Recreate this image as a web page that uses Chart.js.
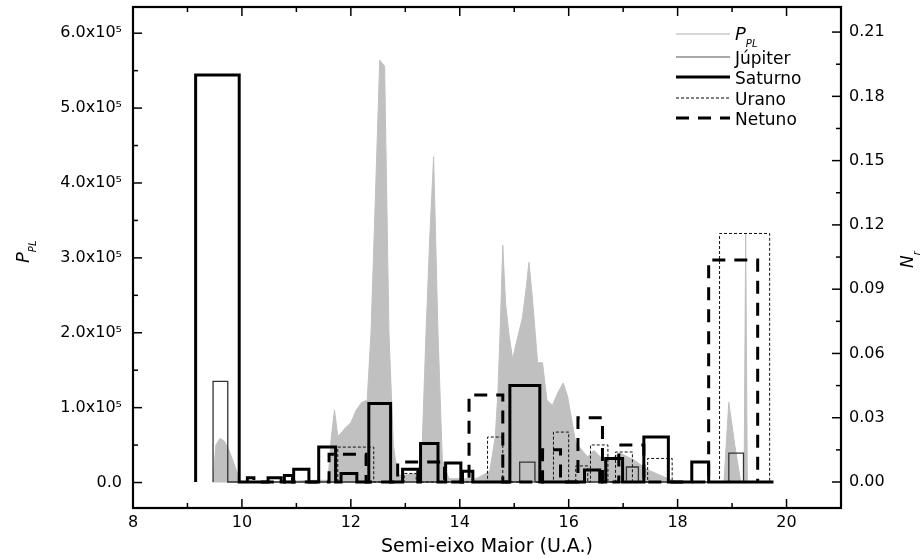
<!DOCTYPE html>
<html><head><meta charset="utf-8">
<script src="https://cdn.jsdelivr.net/npm/chart.js@4.4.1/dist/chart.umd.min.js"></script>
<style>html,body{margin:0;padding:0;background:#fff;}#wrap{width:922px;height:558px;}</style>
</head><body><div id="wrap"><canvas id="c" width="922" height="558"></canvas></div>
<script>
// ---------- DATA ----------
const xTicks = [8, 10, 12, 14, 16, 18, 20];
const leftTicks = [0, 100000, 200000, 300000, 400000, 500000, 600000];
const leftTickLabels = ["0.0", "1.0x10\u2075", "2.0x10\u2075", "3.0x10\u2075", "4.0x10\u2075", "5.0x10\u2075", "6.0x10\u2075"];
const rightTicks = [0, 0.03, 0.06, 0.09, 0.12, 0.15, 0.18, 0.21];
const rightTickLabels = ["0.00", "0.03", "0.06", "0.09", "0.12", "0.15", "0.18", "0.21"];

// P_PL (grey filled area, left axis)
const pplX = [9.47, 9.52, 9.6, 9.68, 9.78, 9.88, 9.97, 10.5, 11.0, 11.3, 11.58, 11.64, 11.7, 11.76, 11.82, 11.9, 12.0, 12.1, 12.2, 12.3, 12.37, 12.45, 12.53, 12.62, 12.7, 12.78, 12.86, 13.0, 13.2, 13.3, 13.38, 13.45, 13.52, 13.6, 13.68, 13.8, 14.0, 14.3, 14.55, 14.65, 14.7, 14.74, 14.79, 14.84, 14.9, 14.97, 15.05, 15.15, 15.22, 15.27, 15.33, 15.43, 15.52, 15.6, 15.7, 15.8, 15.9, 15.98, 16.13, 16.35, 16.46, 16.64, 16.8, 16.95, 17.2, 17.45, 17.8, 18.0, 18.85, 18.94, 19.05, 19.16, 19.22, 19.25, 19.28, 19.4];
const pplY = [0, 50000, 59000, 55000, 40000, 20000, 0, 1000, 2000, 3000, 3000, 60000, 97000, 62000, 66000, 73000, 80000, 97000, 107000, 110000, 200000, 380000, 564000, 556000, 200000, 50000, 10000, 10000, 12000, 30000, 200000, 330000, 435000, 200000, 30000, 5000, 5000, 5000, 15000, 60000, 120000, 200000, 317000, 240000, 200000, 165000, 190000, 220000, 260000, 294000, 250000, 160000, 160000, 110000, 103000, 120000, 133000, 115000, 53000, 34000, 43000, 30000, 33000, 39000, 30000, 17000, 6000, 0, 0, 107000, 50000, 0, 0, 333000, 0, 0];

// Histogram bins (right axis N_r): bin start, bin end, value
const jupiterStart = [9.47, 15.1, 17.06, 18.94];
const jupiterEnd   = [9.74, 15.38, 17.28, 19.21];
const jupiterN     = [0.047, 0.0093, 0.007, 0.0135];

const saturnoStart = [9.15, 10.48, 10.78, 10.95, 11.41, 11.82, 12.33, 12.95, 13.28, 13.74, 14.05, 14.92, 16.29, 16.68, 17.38, 18.26];
const saturnoEnd   = [9.95, 10.72, 10.93, 11.23, 11.72, 12.11, 12.73, 13.23, 13.6, 14.02, 14.24, 15.47, 16.57, 16.99, 17.83, 18.57];
const saturnoN     = [0.19, 0.002, 0.003, 0.006, 0.0163, 0.004, 0.0366, 0.006, 0.018, 0.0089, 0.005, 0.045, 0.0056, 0.011, 0.021, 0.0093];
const saturnoLastEdge = 19.76;

const uranoStart = [11.76, 12.98, 14.51, 15.72, 16.13, 16.4, 16.86, 17.45, 18.77];
const uranoEnd   = [12.42, 13.2, 14.79, 16.0, 16.35, 16.72, 17.17, 17.9, 19.69];
const uranoN     = [0.0163, 0.004, 0.021, 0.0233, 0.0075, 0.0173, 0.014, 0.011, 0.116];

const netunoStart = [10.1, 11.6, 12.86, 14.17, 15.52, 16.17, 16.92, 18.57];
const netunoEnd   = [10.22, 12.28, 13.72, 14.79, 15.85, 16.62, 17.38, 19.47];
const netunoN     = [0.002, 0.013, 0.0093, 0.0406, 0.015, 0.030, 0.0173, 0.1036];

// ---------- BUILD ----------
const FONT = "'DejaVu Sans', 'Liberation Sans', Arial, sans-serif";
function steps(s, e, v, lastEdge) {
  const pts = [];
  for (let i = 0; i < s.length; i++) {
    pts.push({x: s[i], y: 0}, {x: s[i], y: v[i]}, {x: e[i], y: v[i]}, {x: e[i], y: 0});
  }
  if (lastEdge !== undefined) pts.push({x: lastEdge, y: 0});
  return pts;
}
const pplData = pplX.map((x, i) => ({x, y: pplY[i]}));

const zeroPad = (s) => { s.paddingTop = 0; s.paddingBottom = 0; s.paddingLeft = 0; s.paddingRight = 0; };

const decor = {
  id: 'decor',
  afterDatasetsDraw(chart) {
    const {ctx, chartArea: a, scales} = chart;
    const line = (x1, y1, x2, y2) => { ctx.beginPath(); ctx.moveTo(x1, y1); ctx.lineTo(x2, y2); ctx.stroke(); };
    ctx.save();
    ctx.strokeStyle = '#000';
    ctx.lineWidth = 1.5;
    // x ticks (bottom & top, inward)
    for (let v = 8; v <= 21; v += 1) {
      const px = scales.x.getPixelForValue(v);
      const L = (v % 2 === 0) ? 9 : 5;
      line(px, a.bottom, px, a.bottom - L);
      line(px, a.top, px, a.top + L);
    }
    // left ticks
    for (let k = 0; k <= 13; k++) {
      const v = k * 50000;
      const py = scales.y.getPixelForValue(v);
      if (py < a.top || py > a.bottom) continue;
      line(a.left, py, a.left + (k % 2 === 0 ? 9 : 5), py);
    }
    // right ticks
    for (let k = 0; k <= 15; k++) {
      const v = k * 0.015;
      const py = scales.y2.getPixelForValue(v);
      if (py < a.top || py > a.bottom) continue;
      line(a.right, py, a.right - (k % 2 === 0 ? 9 : 5), py);
    }
    // frame
    ctx.lineWidth = 2.2;
    ctx.strokeRect(a.left, a.top, a.right - a.left, a.bottom - a.top);

    // legend
    const lx0 = 676, lx1 = 730, tx = 735;
    const rows = [
      {y: 34, color: '#d6d6d6', w: 2, dash: []},
      {y: 57, color: '#8c8c8c', w: 1.5, dash: []},
      {y: 77, color: '#000', w: 3, dash: []},
      {y: 98, color: '#000', w: 1, dash: [3, 2]},
      {y: 118, color: '#000', w: 3, dash: [13, 9]}
    ];
    rows.forEach(r => {
      ctx.strokeStyle = r.color; ctx.lineWidth = r.w; ctx.setLineDash(r.dash);
      line(lx0, r.y, lx1, r.y);
    });
    ctx.setLineDash([]);
    ctx.fillStyle = '#000';
    ctx.textBaseline = 'alphabetic';
    ctx.textAlign = 'left';
    ctx.font = 'oblique 18px ' + FONT;
    ctx.fillText('P', tx, 40);
    const pw = ctx.measureText('P').width;
    ctx.font = 'oblique 10px ' + FONT;
    ctx.fillText('PL', tx + pw, 47);
    ctx.font = '17px ' + FONT;
    ctx.fillText('J\u00fapiter', tx, 64);
    ctx.fillText('Saturno', tx, 84);
    ctx.fillText('Urano', tx, 105);
    ctx.fillText('Netuno', tx, 125);

    // left axis title P_PL (rotated)
    ctx.save();
    ctx.translate(29, 263);
    ctx.rotate(-Math.PI / 2);
    ctx.font = 'oblique 18px ' + FONT;
    ctx.fillText('P', 0, 0);
    const pw2 = ctx.measureText('P').width;
    ctx.font = 'oblique 10px ' + FONT;
    ctx.fillText('PL', pw2, 7);
    ctx.restore();

    // right axis title N_r (rotated)
    ctx.save();
    ctx.translate(913, 268);
    ctx.rotate(-Math.PI / 2);
    ctx.font = 'oblique 17px ' + FONT;
    ctx.fillText('N', 0, 0);
    const nw = ctx.measureText('N').width;
    ctx.font = 'oblique 10px ' + FONT;
    ctx.fillText('r', nw, 7);
    ctx.restore();

    ctx.restore();
  }
};

new Chart(document.getElementById('c'), {
  type: 'line',
  data: {
    datasets: [
      {label: 'Saturno', data: steps(saturnoStart, saturnoEnd, saturnoN, saturnoLastEdge), yAxisID: 'y2', borderColor: '#000', borderWidth: 3, fill: false, pointRadius: 0, order: 1},
      {label: 'Netuno', data: steps(netunoStart, netunoEnd, netunoN), yAxisID: 'y2', borderColor: '#000', borderWidth: 3, borderDash: [13, 9], fill: false, pointRadius: 0, order: 2},
      {label: 'Urano', data: steps(uranoStart, uranoEnd, uranoN), yAxisID: 'y2', borderColor: '#111', borderWidth: 1, borderDash: [3, 2], fill: false, pointRadius: 0, order: 3},
      {label: 'J\u00fapiter', data: steps(jupiterStart, jupiterEnd, jupiterN), yAxisID: 'y2', borderColor: '#333', borderWidth: 1.3, fill: false, pointRadius: 0, order: 4},
      {label: 'P_PL', data: pplData, yAxisID: 'y', borderColor: '#c0c0c0', borderWidth: 1, backgroundColor: '#c0c0c0', fill: 'origin', pointRadius: 0, order: 10}
    ]
  },
  options: {
    responsive: false,
    animation: false,
    devicePixelRatio: 1,
    layout: {padding: {top: 7, left: 0, right: 0, bottom: 0}},
    elements: {line: {tension: 0, borderCapStyle: 'butt', borderJoinStyle: 'miter'}},
    plugins: {legend: {display: false}, tooltip: {enabled: false}},
    scales: {
      x: {
        type: 'linear', position: 'bottom', min: 8, max: 21,
        grid: {display: false, drawTicks: false}, border: {display: false},
        afterBuildTicks: (s) => { s.ticks = xTicks.map(v => ({value: v})); },
        ticks: {color: '#000', font: {family: FONT, size: 16}, padding: 5, maxRotation: 0, autoSkip: false, callback: (v) => String(v)},
        title: {display: true, text: 'Semi-eixo Maior (U.A.)', color: '#000', font: {family: FONT, size: 19}, padding: {top: 0, bottom: 0}},
        afterFit: (s) => { s.height = 50; zeroPad(s); }
      },
      y: {
        type: 'linear', position: 'left', min: -34000, max: 635000,
        grid: {display: false, drawTicks: false}, border: {display: false},
        afterBuildTicks: (s) => { s.ticks = leftTicks.map(v => ({value: v})); },
        ticks: {color: '#000', font: {family: FONT, size: 16}, padding: 11, autoSkip: false,
          callback: (v) => { const i = leftTicks.indexOf(v); return i >= 0 ? leftTickLabels[i] : ''; }},
        afterFit: (s) => { s.width = 133; zeroPad(s); }
      },
      y2: {
        type: 'linear', position: 'right', min: -0.01213, max: 0.2217,
        grid: {display: false, drawTicks: false}, border: {display: false},
        afterBuildTicks: (s) => { s.ticks = rightTicks.map(v => ({value: v})); },
        ticks: {color: '#000', font: {family: FONT, size: 16}, padding: 8, autoSkip: false,
          callback: (v) => { const i = rightTicks.findIndex(t => Math.abs(t - v) < 1e-9); return i >= 0 ? rightTickLabels[i] : ''; }},
        afterFit: (s) => { s.width = 81; zeroPad(s); }
      }
    }
  },
  plugins: [decor]
});
</script>
</body></html>
